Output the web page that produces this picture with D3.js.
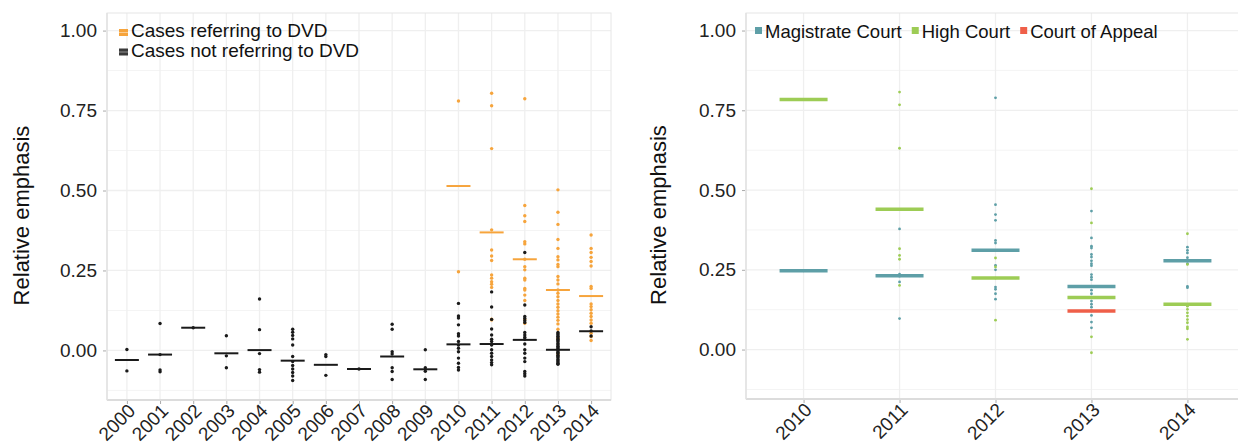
<!DOCTYPE html>
<html><head><meta charset="utf-8">
<script src="https://d3js.org/d3.v7.min.js"></script>
<style>
body{margin:0;background:#fff;}
svg{display:block;font-family:"Liberation Sans",Arial,Helvetica,sans-serif;}
</style></head>
<body><svg id="chart" width="1238" height="448"></svg>
<script>
// ---------- data ----------
const yearsLeft = ["2000","2001","2002","2003","2004","2005","2006","2007","2008","2009","2010","2011","2012","2013","2014"];
const yearsRight = ["2010","2011","2012","2013","2014"];
const yTicks = [0, 0.25, 0.5, 0.75, 1.0];
const yMinor = [-0.125, 0.125, 0.375, 0.625, 0.875];

// Cases not referring to DVD: individual points per year
const notDvdPoints = [
  [0.003, -0.064],
  [0.084, -0.013, -0.061, -0.067],
  [0.071],
  [0.046, -0.017, -0.054],
  [0.161, 0.065, -0.010, -0.060, -0.068],
  [0.066, 0.057, 0.047, 0.036, 0.017, -0.019, -0.035, -0.047, -0.058, -0.069, -0.080, -0.094],
  [-0.013, -0.019, -0.078],
  [-0.058],
  [0.082, 0.066, -0.004, -0.011, -0.054, -0.066, -0.091],
  [0.002, -0.054, -0.065, -0.091],
  [0.147, 0.108, 0.101, 0.080, 0.052, 0.045, 0.028, 0.017, 0.007, -0.004, -0.024, -0.040, -0.053, -0.061],
  [0.183, 0.136, 0.097, 0.067, 0.048, 0.035, 0.028, 0.017, 0.002, -0.009, -0.019, -0.030, -0.038, -0.045],
  [0.306, 0.142, 0.106, 0.100, 0.093, 0.087, 0.056, 0.048, 0.041, 0.035, 0.020, 0.002, -0.009, -0.024, -0.035, -0.066, -0.073, -0.080],
  [0.056, 0.052, 0.048, 0.044, 0.040, 0.035, 0.031, 0.027, 0.022, 0.018, 0.013, 0.009, 0.005, 0.002, -0.002, -0.006, -0.010, -0.015, -0.019, -0.023, -0.028, -0.032, -0.036, -0.040, -0.043],
  [0.074, 0.061, 0.045]
];
const notDvdMeans = [-0.030, -0.013, 0.071, -0.009, 0.001, -0.032, -0.045, -0.058, -0.019, -0.059, 0.019, 0.020, 0.033, 0.002, 0.060];

// Cases referring to DVD (2010-2014)
const dvdYears = ["2010","2011","2012","2013","2014"];
const dvdPoints = [
  [0.780, 0.246],
  [0.804, 0.765, 0.631, 0.377, 0.314, 0.295, 0.281, 0.236, 0.226, 0.215, 0.207, 0.197, 0.098, 0.095],
  [0.787, 0.453, 0.421, 0.403, 0.340, 0.333, 0.285, 0.262, 0.252, 0.226, 0.220, 0.194, 0.189, 0.173, 0.156, 0.097, 0.085],
  [0.502, 0.432, 0.394, 0.347, 0.319, 0.293, 0.283, 0.269, 0.262, 0.231, 0.220, 0.208, 0.189, 0.179, 0.168, 0.156, 0.145, 0.135, 0.124, 0.114, 0.104, 0.094, 0.083, 0.066, 0.038, -0.011],
  [0.361, 0.319, 0.306, 0.291, 0.278, 0.264, 0.200, 0.194, 0.145, 0.137, 0.127, 0.116, 0.106, 0.095, 0.085, 0.054, 0.043, 0.031]
];
const dvdMeans = [0.514, 0.369, 0.285, 0.189, 0.170];

// Right panel: by court
const courts = ["Magistrate Court", "High Court", "Court of Appeal"];
const magistratePoints = [
  [0.247],
  [0.378, 0.236, 0.230, 0.212, 0.097],
  [0.789, 0.454, 0.423, 0.405, 0.342, 0.334, 0.311, 0.264, 0.250, 0.196, 0.189, 0.175, 0.158],
  [0.434, 0.350, 0.324, 0.318, 0.298, 0.290, 0.278, 0.269, 0.263, 0.235, 0.227, 0.219, 0.198, 0.186, 0.175, 0.152, 0.142, 0.133, 0.121, 0.107, 0.086, 0.068],
  [0.321, 0.311, 0.303, 0.288, 0.269, 0.198, 0.194]
];
const magistrateMeans = [0.247, 0.231, 0.311, 0.198, 0.278];
const highPoints = [
  [0.784],
  [0.807, 0.767, 0.631, 0.316, 0.295, 0.283, 0.201],
  [0.287, 0.259, 0.224, 0.092],
  [0.504, 0.397, 0.163, 0.040, -0.010],
  [0.363, 0.267, 0.136, 0.126, 0.115, 0.105, 0.094, 0.084, 0.071, 0.065, 0.032]
];
const highMeans = [0.784, 0.440, 0.224, 0.163, 0.142];
const appealYears = ["2013"];
const appealPoints = [[0.121]];
const appealMeans = [0.121];

// ---------- styling ----------
const C_ORANGE = "#F6A43C", C_BLACK = "#1a1a1a";
const C_TEAL = "#5E9FA7", C_GREEN = "#9DCC55", C_RED = "#EF5F49";
const svg = d3.select("#chart");
const yDomain = [-0.155, 1.055];

function panel(cfg) {
  const g = svg.append("g");
  const x = d3.scalePoint().domain(cfg.cats).range([cfg.x0, cfg.x1]).padding(0.6);
  const y = d3.scaleLinear().domain(yDomain).range([cfg.y1, cfg.y0]);
  // gridlines
  g.selectAll(".ymin").data(yMinor).join("line")
    .attr("x1", cfg.x0).attr("x2", cfg.x1).attr("y1", d => y(d)).attr("y2", d => y(d))
    .attr("stroke", "#f4f4f4").attr("stroke-width", 1);
  g.selectAll(".ymaj").data(yTicks).join("line")
    .attr("x1", cfg.x0).attr("x2", cfg.x1).attr("y1", d => y(d)).attr("y2", d => y(d))
    .attr("stroke", "#efefef").attr("stroke-width", 1.3);
  g.selectAll(".xg").data(cfg.cats).join("line")
    .attr("x1", d => x(d)).attr("x2", d => x(d)).attr("y1", cfg.y0).attr("y2", cfg.y1)
    .attr("stroke", "#efefef").attr("stroke-width", 1.3);
  // border
  g.append("rect").attr("x", cfg.x0).attr("y", cfg.y0).attr("width", cfg.x1 - cfg.x0).attr("height", cfg.y1 - cfg.y0)
    .attr("fill", "none").attr("stroke", "#e6e6e6").attr("stroke-width", 1);
  g.append("line").attr("x1", cfg.x0).attr("x2", cfg.x1).attr("y1", cfg.y1).attr("y2", cfg.y1)
    .attr("stroke", "#dcdcdc").attr("stroke-width", 2);
  g.append("line").attr("x1", cfg.x0).attr("x2", cfg.x0).attr("y1", cfg.y0).attr("y2", cfg.y1)
    .attr("stroke", "#e2e2e2").attr("stroke-width", 1.5);

  // y axis
  const ya = g.append("g").attr("transform", `translate(${cfg.x0 - 1},0)`)
    .call(d3.axisLeft(y).tickValues(yTicks).tickFormat(d3.format(".2f")).tickSize(3).tickPadding(6));
  ya.select(".domain").remove();
  ya.selectAll(".tick line").attr("stroke", "#aaa");
  ya.selectAll("text").attr("font-size", 19).attr("fill", "#222").attr("font-family", "Liberation Sans, Arial, sans-serif");

  // x axis
  const xa = g.append("g").attr("transform", `translate(0,${cfg.y1 + 1})`)
    .call(d3.axisBottom(x).tickSize(3).tickPadding(0));
  xa.select(".domain").remove();
  xa.selectAll(".tick line").attr("stroke", "#aaa");
  xa.selectAll("text").attr("font-size", 19).attr("fill", "#222")
    .attr("font-family", "Liberation Sans, Arial, sans-serif")
    .attr("text-anchor", "end").attr("dy", null).attr("y", 0)
    .attr("transform", "translate(9,11) rotate(-45)");

  // y title
  svg.append("text").attr("transform", `translate(${cfg.titleX},${(cfg.y0 + cfg.y1) / 2 + 9}) rotate(-90)`)
    .attr("text-anchor", "middle").attr("font-size", 22).attr("fill", "#111").text("Relative emphasis");
  return {g, x, y};
}

function series(p, cats, pts, means, color, r, halfW, sw) {
  const flat = [];
  cats.forEach((c, i) => pts[i].forEach(v => flat.push({c, v})));
  p.g.append("g").selectAll("circle").data(flat).join("circle")
    .attr("cx", d => p.x(d.c)).attr("cy", d => p.y(d.v)).attr("r", r).attr("fill", color);
  p.g.append("g").selectAll("line").data(cats.map((c, i) => ({c, v: means[i]}))).join("line")
    .attr("x1", d => p.x(d.c) - halfW).attr("x2", d => p.x(d.c) + halfW)
    .attr("y1", d => p.y(d.v)).attr("y2", d => p.y(d.v))
    .attr("stroke", color).attr("stroke-width", sw);
}

// ---------- left panel ----------
const L = panel({cats: yearsLeft, x0: 107, x1: 611, y0: 13, y1: 400, titleX: 29});
series(L, dvdYears, dvdPoints, dvdMeans, C_ORANGE, 1.7, 12, 2);
series(L, yearsLeft, notDvdPoints, notDvdMeans, C_BLACK, 1.7, 12, 2);

// left legend
const legL = [{label: "Cases referring to DVD", color: C_ORANGE}, {label: "Cases not referring to DVD", color: "#3a3a3a"}];
legL.forEach((d, i) => {
  const by = 37 + i * 19.5;
  svg.append("rect").attr("x", 119).attr("y", by - 8).attr("width", 9).attr("height", 7).attr("fill", d.color);
  svg.append("line").attr("x1", 119).attr("x2", 128).attr("y1", by - 4.5).attr("y2", by - 4.5)
    .attr("stroke", "#fff").attr("stroke-opacity", 0.45).attr("stroke-width", 1);
  svg.append("text").attr("x", 131).attr("y", by).attr("font-size", 19).attr("fill", "#111").text(d.label);
});

// ---------- right panel ----------
const R = panel({cats: yearsRight, x0: 746, x1: 1245, y0: 13, y1: 399, titleX: 666});
series(R, yearsRight, magistratePoints, magistrateMeans, C_TEAL, 1.4, 24, 3.5);
series(R, yearsRight, highPoints, highMeans, C_GREEN, 1.4, 24, 3.5);
series(R, appealYears, appealPoints, appealMeans, C_RED, 1.4, 24, 3.5);

// right legend
const legColors = [C_TEAL, C_GREEN, C_RED];
let lx = 755;
courts.forEach((c, i) => {
  svg.append("rect").attr("x", lx).attr("y", 27).attr("width", 7).attr("height", 7).attr("fill", legColors[i]);
  const t = svg.append("text").attr("x", lx + 10).attr("y", 38).attr("font-size", 18.5).attr("fill", "#111").text(c);
  lx = lx + 10 + t.node().getComputedTextLength() + 10;
});
</script></body></html>
